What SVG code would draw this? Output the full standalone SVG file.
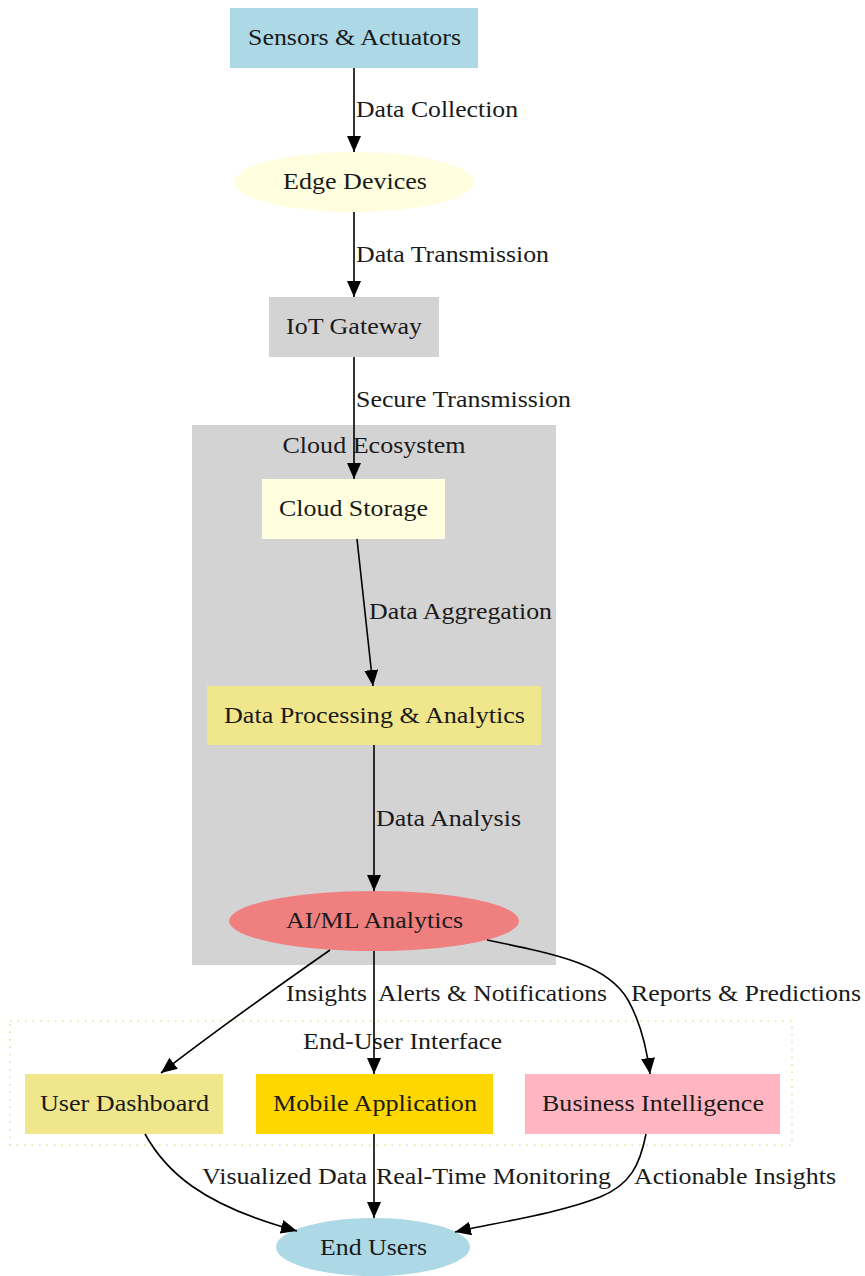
<svg xmlns="http://www.w3.org/2000/svg" width="865" height="1276" viewBox="0 0 865 1276">
<style>
text{font-family:"Liberation Serif","Times New Roman",serif;font-size:23px;fill:#1a1a1a}
.c{text-anchor:middle}
.e{fill:none;stroke:#000;stroke-width:1.6;marker-end:url(#ah)}
</style>
<defs>
<marker id="ah" markerUnits="userSpaceOnUse" markerWidth="18" markerHeight="16" refX="16" refY="7" orient="auto">
<path d="M0,0 L16,7 L0,14 Z" fill="#000"/>
</marker>
</defs>
<rect width="865" height="1276" fill="#fff"/>
<g id="cluster_cloud">
<rect x="192" y="425" width="364" height="540" fill="#d3d3d3"/>
<text class="c" x="374" y="453" textLength="183" lengthAdjust="spacingAndGlyphs">Cloud Ecosystem</text>
</g>
<g id="cluster_ui">
<rect x="10" y="1021" width="782" height="124" fill="none" stroke="#eee8aa" stroke-width="2" stroke-dasharray="1.5,6"/>
<text class="c" x="402.5" y="1049" textLength="199" lengthAdjust="spacingAndGlyphs">End-User Interface</text>
</g>
<g id="sensors">
<rect x="230" y="8" width="248" height="60" fill="#add8e6"/>
<text class="c" x="354.5" y="45" textLength="213" lengthAdjust="spacingAndGlyphs">Sensors &amp; Actuators</text>
</g>
<g id="edge_devices">
<ellipse cx="354" cy="182" rx="120" ry="30" fill="#ffffe0"/>
<text class="c" x="355" y="189" textLength="144" lengthAdjust="spacingAndGlyphs">Edge Devices</text>
</g>
<g id="iot_gateway">
<rect x="269" y="297" width="170" height="60" fill="#d3d3d3"/>
<text class="c" x="354" y="334" textLength="136" lengthAdjust="spacingAndGlyphs">IoT Gateway</text>
</g>
<g id="cloud_storage">
<rect x="262" y="479" width="183" height="60" fill="#ffffe0"/>
<text class="c" x="353.5" y="516" textLength="149" lengthAdjust="spacingAndGlyphs">Cloud Storage</text>
</g>
<g id="data_processing">
<rect x="207" y="686" width="334" height="59" fill="#f0e68c"/>
<text class="c" x="374.5" y="723" textLength="301" lengthAdjust="spacingAndGlyphs">Data Processing &amp; Analytics</text>
</g>
<g id="ai_ml">
<ellipse cx="374" cy="921" rx="145" ry="30" fill="#f08080"/>
<text class="c" x="374.5" y="928" textLength="177" lengthAdjust="spacingAndGlyphs">AI/ML Analytics</text>
</g>
<g id="user_dashboard">
<rect x="25" y="1074" width="198" height="60" fill="#f0e68c"/>
<text class="c" x="124.5" y="1111" textLength="169" lengthAdjust="spacingAndGlyphs">User Dashboard</text>
</g>
<g id="mobile_app">
<rect x="256" y="1074" width="237" height="60" fill="#ffd700"/>
<text class="c" x="375" y="1111" textLength="204" lengthAdjust="spacingAndGlyphs">Mobile Application</text>
</g>
<g id="business_intelligence">
<rect x="525" y="1074" width="255" height="60" fill="#ffb6c1"/>
<text class="c" x="653" y="1111" textLength="222" lengthAdjust="spacingAndGlyphs">Business Intelligence</text>
</g>
<g id="end_users">
<ellipse cx="373" cy="1247" rx="97" ry="29" fill="#add8e6"/>
<text class="c" x="373.5" y="1255" textLength="107" lengthAdjust="spacingAndGlyphs">End Users</text>
</g>
<g id="connectors">
<path class="e" d="M354,68 L354,152"/>
<text x="356" y="117" textLength="162" lengthAdjust="spacingAndGlyphs">Data Collection</text>
<path class="e" d="M354,212 L354,297"/>
<text x="356" y="262" textLength="193" lengthAdjust="spacingAndGlyphs">Data Transmission</text>
<path class="e" d="M354,357 L354,479"/>
<text x="356" y="407" textLength="215" lengthAdjust="spacingAndGlyphs">Secure Transmission</text>
<path class="e" d="M357,539 L373,686"/>
<text x="369" y="619" textLength="183" lengthAdjust="spacingAndGlyphs">Data Aggregation</text>
<path class="e" d="M374,745 L374,891"/>
<text x="376" y="826" textLength="145" lengthAdjust="spacingAndGlyphs">Data Analysis</text>
<path class="e" d="M330,950 C280,985 210,1035 161,1073"/>
<text x="286" y="1001" textLength="81" lengthAdjust="spacingAndGlyphs">Insights</text>
<path class="e" d="M374,951 L374,1074"/>
<text x="378" y="1001" textLength="229" lengthAdjust="spacingAndGlyphs">Alerts &amp; Notifications</text>
<path class="e" d="M487,940 C560,955 608,965 628,1000 C642,1025 647,1050 650,1074"/>
<text x="631" y="1001" textLength="230" lengthAdjust="spacingAndGlyphs">Reports &amp; Predictions</text>
<path class="e" d="M145,1134 C165,1170 200,1205 297,1231"/>
<text x="202" y="1184" textLength="165" lengthAdjust="spacingAndGlyphs">Visualized Data</text>
<path class="e" d="M374,1134 L374,1218"/>
<text x="376" y="1184" textLength="235" lengthAdjust="spacingAndGlyphs">Real-Time Monitoring</text>
<path class="e" d="M646,1134 C640,1165 630,1185 600,1197 C560,1213 500,1222 455,1232"/>
<text x="634" y="1184" textLength="202" lengthAdjust="spacingAndGlyphs">Actionable Insights</text>
</g>
</svg>
